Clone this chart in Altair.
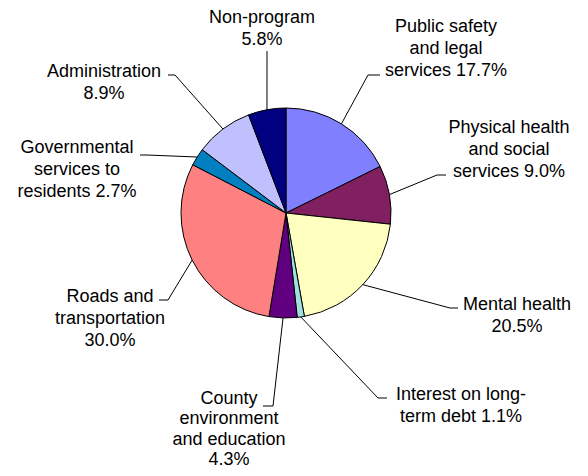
import math
import altair as alt
import pandas as pd

# ---- data ----
categories = [
    "Public safety and legal services",
    "Physical health and social services",
    "Mental health",
    "Interest on long-term debt",
    "County environment and education",
    "Roads and transportation",
    "Governmental services to residents",
    "Administration",
    "Non-program",
]
shares = [17.7, 9.0, 20.5, 1.1, 4.3, 30.0, 2.7, 8.9, 5.8]
label_lines = [
    ["Public safety", "and legal", "services  17.7%"],
    ["Physical health", "and social", "services  9.0%"],
    ["Mental health", "20.5%"],
    ["Interest on long-", "term debt 1.1%"],
    ["County", "environment", "and education", "4.3%"],
    ["Roads  and", "transportation", "30.0%"],
    ["Governmental", "services  to", "residents  2.7%"],
    ["Administration", "8.9%"],
    ["Non-program", "5.8%"],
]

# ---- styles / layout (page pixel coordinates) ----
colors = ["#8080FF", "#802060", "#FFFFC0", "#A0E0E0", "#600080",
          "#FF8080", "#0080C0", "#C0C0FF", "#000080"]
CX, CY, R = 286, 213, 105
label_pos = [(446, 27), (509, 128), (517, 305), (461, 395), (229, 399),
             (110, 297), (77, 148), (104, 72), (262, 18)]
line_h = [22, 22, 22, 22, 20.3, 22, 22, 22, 22]
elbow_pos = [(368, 75), (437, 175), (450, 308), (378, 398), (273, 406),
             (168, 300), (147, 155), (175, 75), (267, 51)]
tick_end = [(380, 75), (446, 175), (458, 308), (387, 398), (263, 406),
            (159, 300), (140, 155), (168, 75), None]

W, H = 572, 460
M = 8

df = pd.DataFrame({"cat": categories, "share": shares, "idx": range(len(categories))})

total = sum(shares)
rows = []
cum = 0.0
for i, (c, v) in enumerate(zip(categories, shares)):
    mid = (cum + v / 2) / total * 2 * math.pi
    cum += v
    rx = CX + R * math.sin(mid)
    ry = CY - R * math.cos(mid)
    pts = [(rx, ry), elbow_pos[i]]
    if tick_end[i] is not None:
        pts.append(tick_end[i])
    for k, (px, py) in enumerate(pts):
        rows.append({"cat": c, "k": k, "x": px, "y": py})
lines_df = pd.DataFrame(rows)

labels_df = pd.DataFrame({
    "cat": categories,
    "text": label_lines,
    "x": [p[0] for p in label_pos],
    "y": [p[1] for p in label_pos],
    "lh": line_h,
})

xs = alt.Scale(domain=[M, M + W], nice=False, zero=False)
ys = alt.Scale(domain=[M, M + H], nice=False, zero=False, reverse=True)

pie = alt.Chart(df).mark_arc(radius=R, stroke="black", strokeWidth=1).encode(
    theta=alt.Theta("share:Q", stack=True),
    color=alt.Color("cat:N", scale=alt.Scale(domain=categories, range=colors), legend=None),
    order=alt.Order("idx:Q"),
    x=alt.value(CX - M),
    y=alt.value(CY - M),
)

leaders = alt.Chart(lines_df).mark_line(color="black", strokeWidth=1).encode(
    x=alt.X("x:Q", scale=xs, axis=None),
    y=alt.Y("y:Q", scale=ys, axis=None),
    detail="cat:N",
    order="k:Q",
)

text_layers = []
for lh in sorted(set(line_h)):
    sub = labels_df[labels_df["lh"] == lh][["cat", "text", "x", "y"]]
    text_layers.append(
        alt.Chart(sub).mark_text(
            font="Liberation Sans", fontSize=18, lineHeight=lh, align="center",
            baseline="middle", color="black",
        ).encode(
            x=alt.X("x:Q", scale=xs, axis=None),
            y=alt.Y("y:Q", scale=ys, axis=None),
            text="text",
        )
    )

chart = alt.layer(pie, leaders, *text_layers).properties(
    width=W, height=H, padding=0, autosize=alt.AutoSizeParams(type="none"),
    background="white",
).configure_view(stroke=None)

chart.save("out.html", embed_options={"renderer": "svg", "actions": False})
